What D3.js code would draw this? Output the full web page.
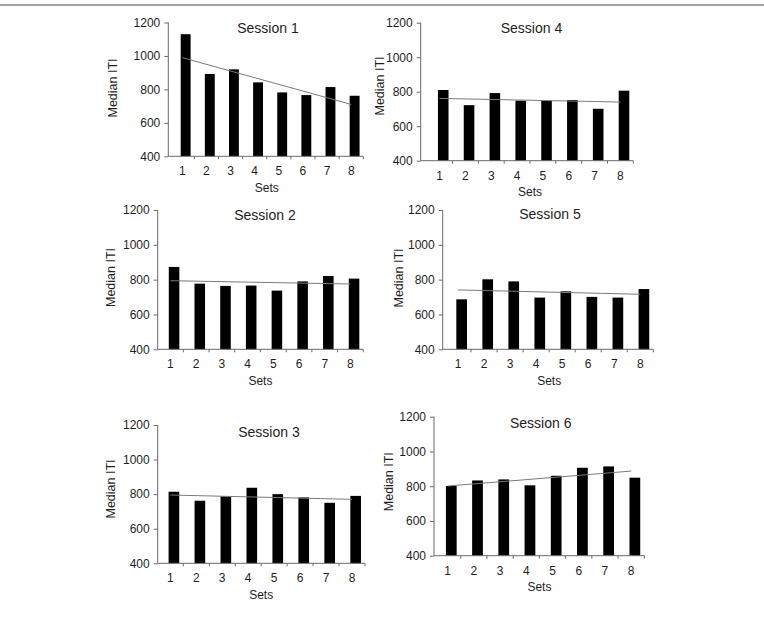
<!DOCTYPE html>
<html>
<head>
<meta charset="utf-8">
<script src="https://cdn.jsdelivr.net/npm/d3@7"></script>
<style>
  body { margin: 0; background: #fff; }
  svg { display: block; font-family: "Liberation Sans", Arial, sans-serif; }
</style>
</head>
<body>
<svg id="chart" width="764" height="618"></svg>
<script>
// data
var sets = ["1", "2", "3", "4", "5", "6", "7", "8"]
var yTicks = [400, 600, 800, 1000, 1200]
var titles = ["Session 1", "Session 2", "Session 3", "Session 4", "Session 5", "Session 6"]

var session1 = [1130, 892, 920, 842, 782, 766, 814, 762]
var session2 = [873, 777, 764, 766, 737, 790, 821, 806]
var session3 = [814, 762, 787, 837, 800, 781, 750, 790]
var session4 = [810, 722, 792, 748, 748, 752, 701, 806]
var session5 = [687, 802, 790, 697, 733, 701, 697, 746]
var session6 = [801, 833, 839, 805, 860, 906, 914, 849]

// trendline value at set 1 and at set 8
var trend1 = [990, 710]
var trend2 = [794, 775]
var trend3 = [795, 770]
var trend4 = [761, 740]
var trend5 = [741, 716]
var trend6 = [801, 887]

var allValues = [session1, session2, session3, session4, session5, session6]
var allTrends = [trend1, trend2, trend3, trend4, trend5, trend6]

// where each small chart sits on the page (same order as titles)
var LAYOUT = [
  {axisX: 168.3, x0: 170.2, x1: 363.3, top: 22.5, bottom: 156.3, titleX: 268, titleY: 33.3, labX: 117, labY: 88},
  {axisX: 157.7, x0: 157.6, x1: 363.3, top: 210, bottom: 349.3, titleX: 265, titleY: 220, labX: 115, labY: 277.5},
  {axisX: 157.7, x0: 157.3, x1: 365, top: 425, bottom: 563.3, titleX: 269, titleY: 436.7, labX: 115, labY: 489},
  {axisX: 420.7, x0: 426.7, x1: 633.3, top: 22.7, bottom: 160.7, titleX: 531.5, titleY: 33.3, labX: 383.5, labY: 86},
  {axisX: 442.7, x0: 445, x1: 653.3, top: 210, bottom: 349.3, titleX: 550, titleY: 219.3, labX: 402.7, labY: 278},
  {axisX: 434, x0: 434.5, x1: 644.3, top: 416.7, bottom: 555.7, titleX: 540.7, titleY: 428.3, labX: 392.7, labY: 481.7}
]

var AXIS_COLOR = "#6a6a6a"
var TEXT_COLOR = "#1e1e1e"

var svg = d3.select("#chart")

// thin rule across the top of the figure
svg.append("line")
  .attr("x1", 0).attr("x2", 764)
  .attr("y1", 5).attr("y2", 5)
  .attr("stroke", "#a0a0a0")
  .attr("stroke-width", 2)

function draw_panel(i) {
  var L = LAYOUT[i]
  var values = allValues[i]
  var trend = allTrends[i]
  var g = svg.append("g")

  var x = d3.scaleBand().domain(sets).range([L.x0, L.x1]).padding(0)
  var y = d3.scaleLinear().domain([400, 1200]).range([L.bottom, L.top])
  var bw = x.bandwidth()

  // bars (they sit a little right of the category centre in the original)
  g.selectAll("rect.bar")
    .data(values)
    .enter().append("rect")
    .attr("class", "bar")
    .attr("x", function(d, k) { return x(sets[k]) + bw * 0.64 - bw * 0.205 })
    .attr("width", bw * 0.41)
    .attr("y", function(d) { return y(d) })
    .attr("height", function(d) { return y(400) - y(d) })
    .attr("fill", "#000")

  // linear trendline
  g.append("line")
    .attr("x1", x(sets[0]) + bw / 2)
    .attr("x2", x(sets[sets.length - 1]) + bw / 2)
    .attr("y1", y(trend[0]))
    .attr("y2", y(trend[1]))
    .attr("stroke", "#7a7a7a")
    .attr("stroke-width", 1)

  // y axis
  var yAxis = g.append("g")
    .attr("transform", "translate(" + L.axisX + ",0)")
    .call(d3.axisLeft(y).tickValues(yTicks).tickSize(4).tickPadding(4).tickFormat(d3.format("d")))
  yAxis.select(".domain").attr("stroke", AXIS_COLOR).attr("d", "M0," + y(400) + "V" + y(1200))
  yAxis.selectAll(".tick line").attr("stroke", AXIS_COLOR)
  yAxis.selectAll(".tick text")
    .attr("fill", TEXT_COLOR)
    .style("font-size", "12px")

  // x axis: baseline, ticks between categories, labels at centres
  g.append("line")
    .attr("x1", L.axisX).attr("x2", L.x1)
    .attr("y1", L.bottom).attr("y2", L.bottom)
    .attr("stroke", AXIS_COLOR)

  g.selectAll("line.xtick")
    .data(sets)
    .enter().append("line")
    .attr("class", "xtick")
    .attr("x1", function(d) { return x(d) + bw })
    .attr("x2", function(d) { return x(d) + bw })
    .attr("y1", L.bottom).attr("y2", L.bottom + 3)
    .attr("stroke", AXIS_COLOR)

  g.selectAll("text.xlab")
    .data(sets)
    .enter().append("text")
    .attr("class", "xlab")
    .attr("x", function(d) { return x(d) + bw / 2 })
    .attr("y", L.bottom + 19)
    .attr("text-anchor", "middle")
    .attr("fill", TEXT_COLOR)
    .style("font-size", "12px")
    .text(function(d) { return d })

  g.append("text")
    .attr("x", (L.x0 + L.x1) / 2)
    .attr("y", L.bottom + 35.7)
    .attr("text-anchor", "middle")
    .attr("fill", TEXT_COLOR)
    .style("font-size", "12px")
    .text("Sets")

  g.append("text")
    .attr("transform", "translate(" + L.labX + "," + L.labY + ") rotate(-90)")
    .attr("text-anchor", "middle")
    .attr("fill", TEXT_COLOR)
    .style("font-size", "12.5px")
    .text("Median ITI")

  g.append("text")
    .attr("x", L.titleX)
    .attr("y", L.titleY)
    .attr("text-anchor", "middle")
    .attr("fill", TEXT_COLOR)
    .style("font-size", "14px")
    .text(titles[i])
}

for (var i = 0; i < titles.length; i++) {
  draw_panel(i)
}
</script>
</body>
</html>
